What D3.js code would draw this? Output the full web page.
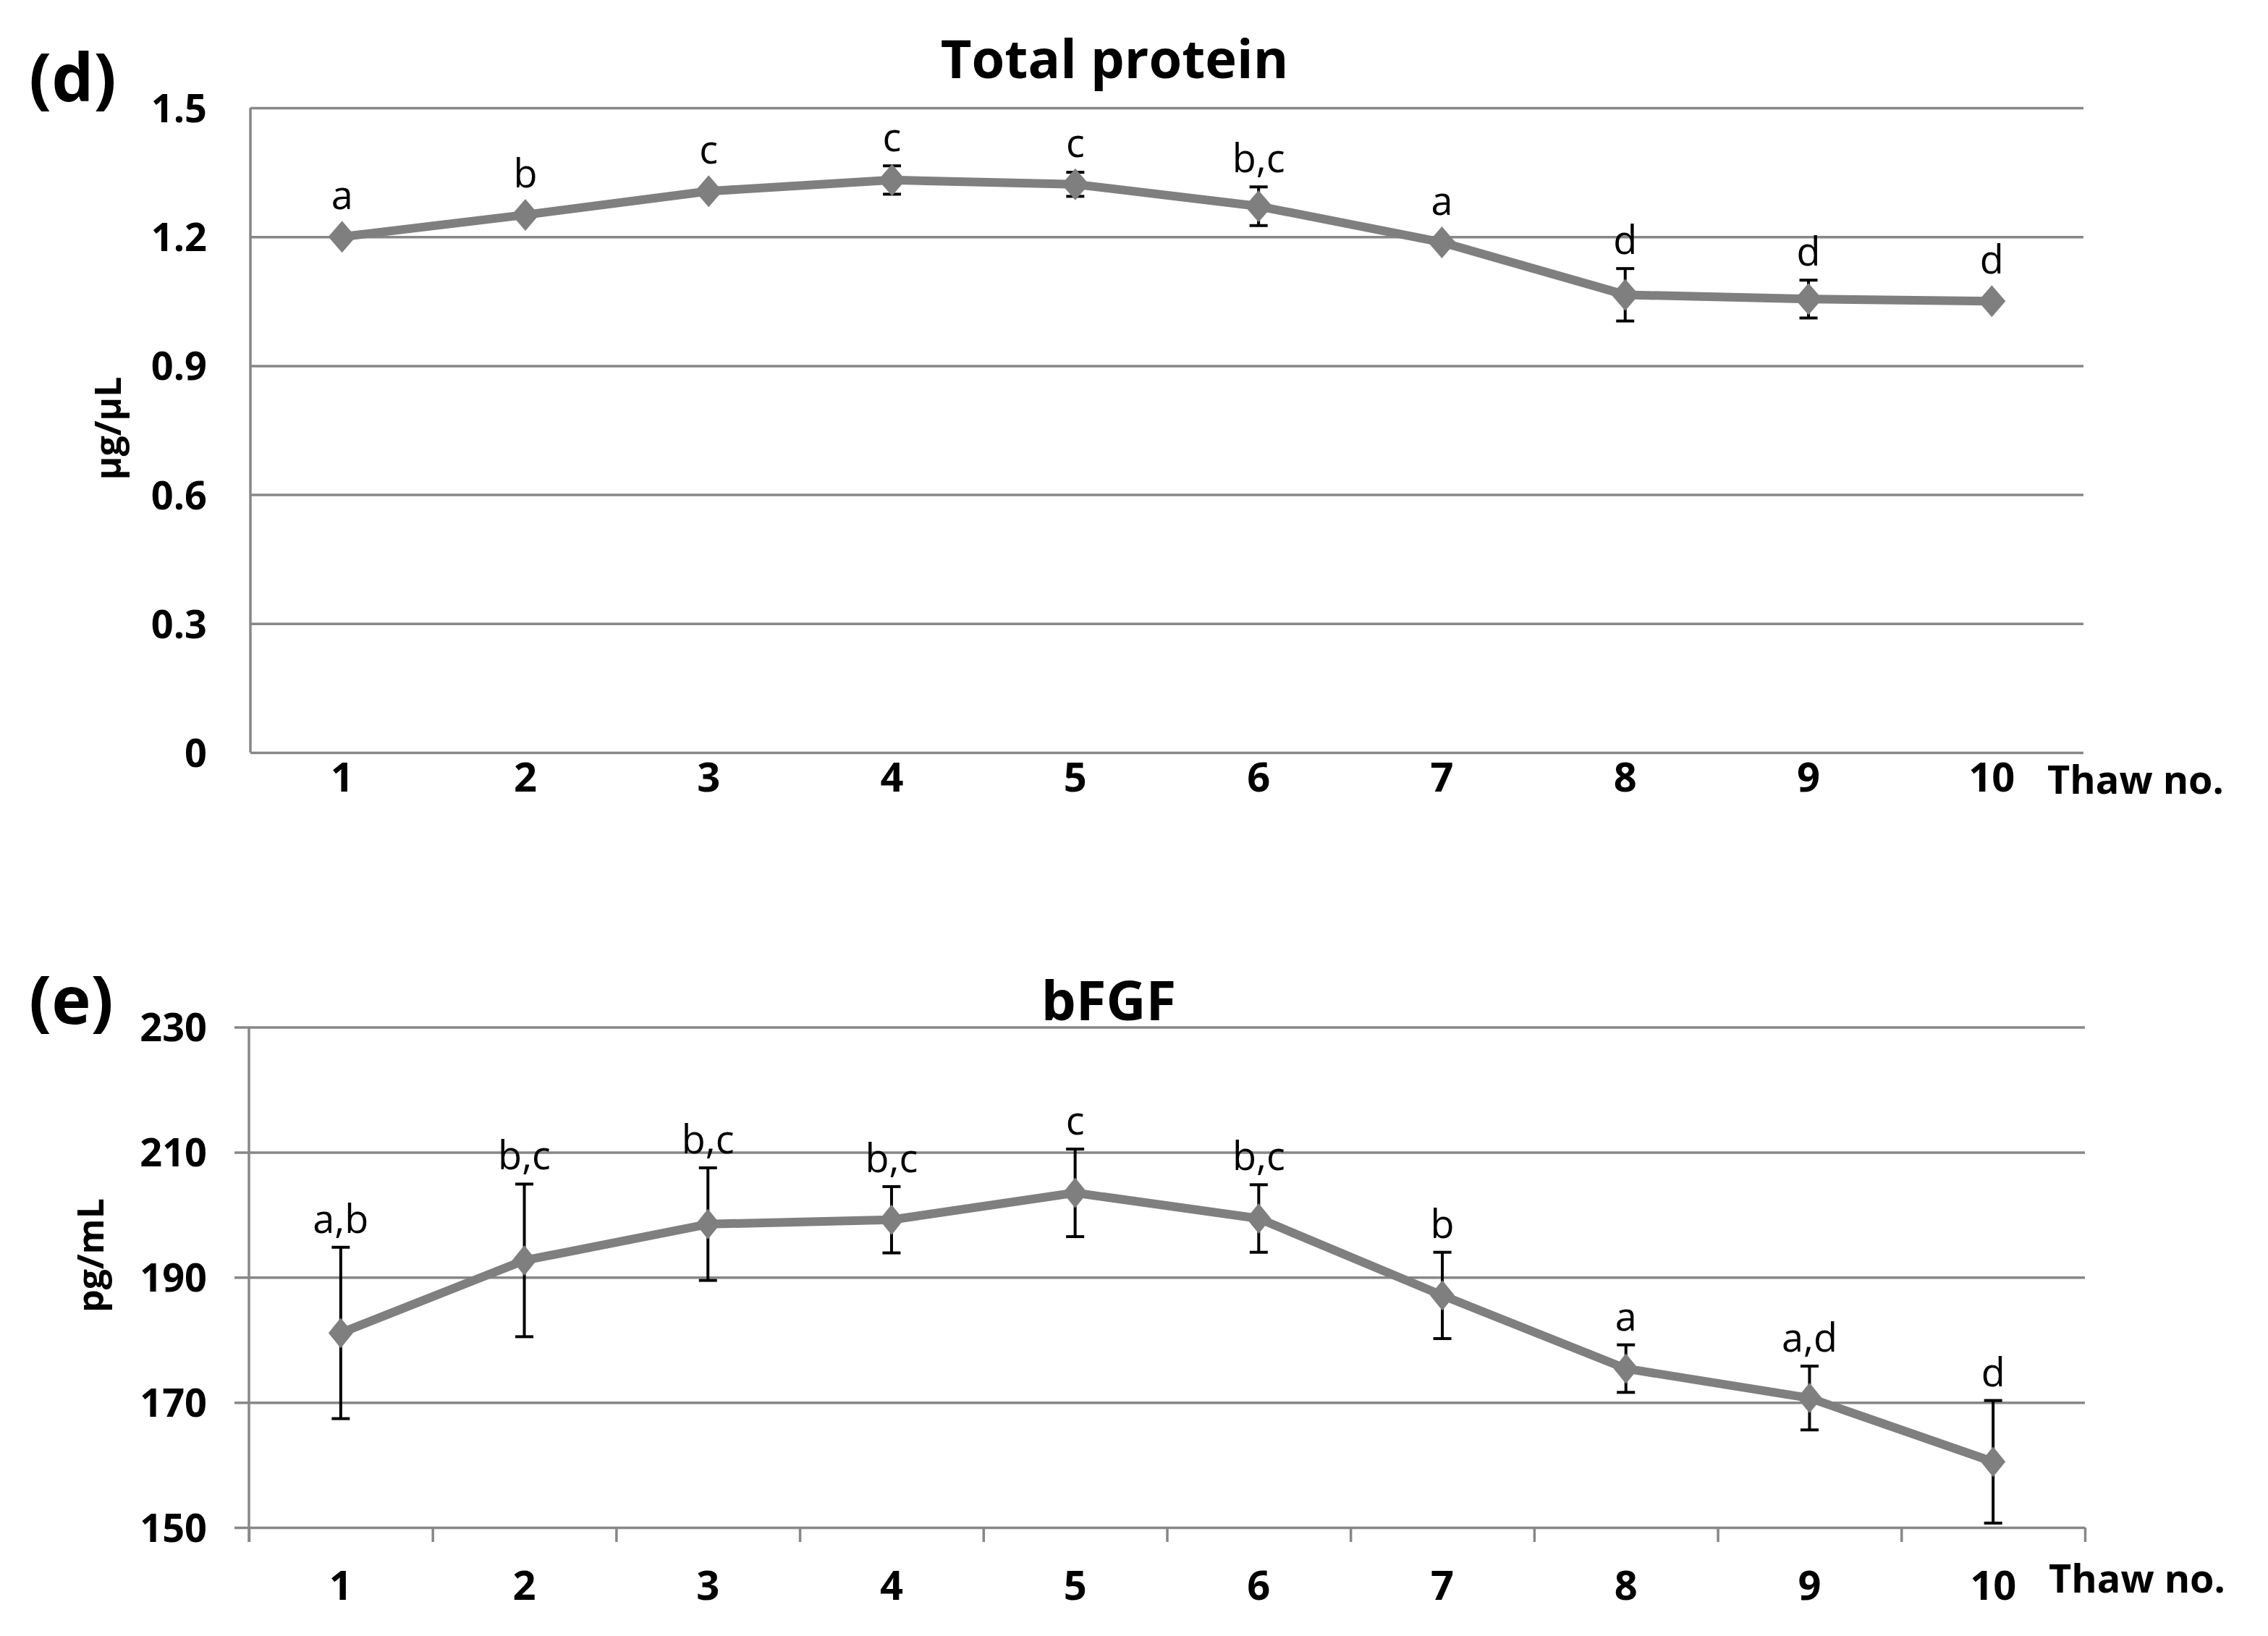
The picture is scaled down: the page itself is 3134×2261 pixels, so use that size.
<!DOCTYPE html>
<html>
<head>
<meta charset="utf-8">
<script src="https://cdn.jsdelivr.net/npm/d3@7"></script>
<style>
  html, body { margin: 0; padding: 0; background: #fff; }
  svg text { font-family: "Open Sans", "Noto Sans", sans-serif; }
</style>
</head>
<body>
<svg id="chart" width="3134" height="2261"></svg>
<script>
/// data ///
const thawNo = ["1", "2", "3", "4", "5", "6", "7", "8", "9", "10"];

// (d) total protein, ug/uL
const proteinMean = [1.200, 1.251, 1.306, 1.332, 1.322, 1.271, 1.187, 1.065, 1.055, 1.050];
const proteinErr = [0.005, 0.006, 0.007, 0.033, 0.028, 0.045, 0.006, 0.061, 0.044, 0.008];
const proteinLetters = ["a", "b", "c", "c", "c", "b,c", "a", "d", "d", "d"];
const proteinTicks = [0, 0.3, 0.6, 0.9, 1.2, 1.5];

// (e) bFGF, pg/mL
const bfgfMean = [181.1, 192.7, 198.5, 199.2, 203.5, 199.4, 187.1, 175.4, 170.7, 160.5];
const bfgfErr = [13.7, 12.2, 9.0, 5.3, 7.0, 5.4, 6.9, 3.8, 5.1, 9.8];
const bfgfLetters = ["a,b", "b,c", "b,c", "b,c", "c", "b,c", "b", "a", "a,d", "d"];
const bfgfTicks = [150, 170, 190, 210, 230];

/// constants ///
const gridColor = "#878787";
const lineColor = "#7f7f7f";

const svg = d3.select("#chart");
svg.append("rect").attr("width", 3134).attr("height", 2261).attr("fill", "#fff");

function drawPanel(p) {
  const g = svg.append("g");

  // scales
  const xScale = d3.scaleBand().domain(thawNo).range([p.left, p.right]).padding(0);
  const xc = d => xScale(d) + xScale.bandwidth() / 2;
  const yScale = d3.scaleLinear().domain(d3.extent(p.ticks)).range([p.bottom, p.top]);

  // gridlines + y tick labels
  const yAxis = g.append("g")
    .attr("transform", `translate(${p.left},0)`)
    .call(d3.axisLeft(yScale).tickValues(p.ticks).tickSize(-(p.right - p.left)).tickPadding(p.left - 286).tickFormat(d => d))
  yAxis.select(".domain").remove();
  yAxis.selectAll(".tick line")
    .attr("x1", -p.outTick)
    .attr("stroke", gridColor).attr("stroke-width", 3.5);
  yAxis.selectAll(".tick text")
    .attr("font-family", "Open Sans").attr("font-weight", "bold")
    .attr("font-size", 54).attr("fill", "#000").attr("dy", "0.36em");

  // left axis line
  g.append("line")
    .attr("x1", p.left).attr("x2", p.left)
    .attr("y1", p.top).attr("y2", p.bottom + p.outTick)
    .attr("stroke", gridColor).attr("stroke-width", 3.5);

  // x tick marks at category edges (only on bFGF panel)
  if (p.outTick > 0) {
    const edgeScale = d3.scaleLinear().domain([0, thawNo.length]).range([p.left, p.right]);
    const xEdges = g.append("g")
      .attr("transform", `translate(0,${p.bottom})`)
      .call(d3.axisBottom(edgeScale).ticks(thawNo.length).tickFormat("").tickSize(p.outTick));
    xEdges.select(".domain").remove();
    xEdges.selectAll(".tick line").attr("stroke", gridColor).attr("stroke-width", 3.5);
  }

  // x labels
  const xAxis = g.append("g")
    .attr("transform", `translate(0,${p.bottom})`)
    .call(d3.axisBottom(xScale).tickSize(0).tickPadding(p.labelPad));
  xAxis.select(".domain").remove();
  xAxis.selectAll(".tick text")
    .attr("font-family", "Open Sans").attr("font-weight", "bold")
    .attr("font-size", 56).attr("fill", "#000");

  g.append("text")
    .attr("x", p.right - 50).attr("y", p.thawY)
    .attr("dominant-baseline", "central")
    .attr("font-weight", "bold").attr("font-size", 54)
    .text("Thaw no.");

  // titles
  g.append("text")
    .attr("x", p.titleX).attr("y", p.titleY)
    .attr("text-anchor", "middle")
    .attr("font-weight", "bold").attr("font-size", p.titleSize)
    .text(p.title);

  g.append("text")
    .attr("x", 40).attr("y", p.panelY)
    .attr("font-weight", "bold").attr("font-size", 92)
    .text(p.panel);

  g.append("text")
    .attr("transform", `translate(${p.yLabelX},${p.yLabelY}) rotate(-90)`)
    .attr("text-anchor", "middle").attr("dominant-baseline", "central")
    .attr("font-weight", "bold").attr("font-size", 50)
    .text(p.yLabel);

  const rows = thawNo.map((t, i) => ({ t, m: p.mean[i], e: p.err[i], lab: p.letters[i] }));

  // line
  const line = d3.line().x(d => xc(d.t)).y(d => yScale(d.m));
  g.append("path")
    .datum(rows)
    .attr("d", line)
    .attr("fill", "none")
    .attr("stroke", lineColor).attr("stroke-width", 12).attr("stroke-linejoin", "round");

  // error bars
  const bars = g.selectAll(".err").data(rows).join("g").classed("err", true)
    .attr("stroke", "#000").attr("stroke-width", 4);
  bars.append("line")
    .attr("x1", d => xc(d.t)).attr("x2", d => xc(d.t))
    .attr("y1", d => yScale(d.m + d.e)).attr("y2", d => yScale(d.m - d.e));
  bars.append("line")
    .attr("x1", d => xc(d.t) - 12.5).attr("x2", d => xc(d.t) + 12.5)
    .attr("y1", d => yScale(d.m + d.e)).attr("y2", d => yScale(d.m + d.e));
  bars.append("line")
    .attr("x1", d => xc(d.t) - 12.5).attr("x2", d => xc(d.t) + 12.5)
    .attr("y1", d => yScale(d.m - d.e)).attr("y2", d => yScale(d.m - d.e));

  // diamond markers
  const rx = p.markerW, ry = p.markerH;
  g.selectAll(".mk").data(rows).join("path").classed("mk", true)
    .attr("d", `M0,${-ry} L${rx},0 L0,${ry} L${-rx},0 Z`)
    .attr("transform", d => `translate(${xc(d.t)},${yScale(d.m)})`)
    .attr("fill", lineColor);

  // significance letters above the points
  g.selectAll(".lab").data(rows).join("text").classed("lab", true)
    .attr("x", d => xc(d.t))
    .attr("y", d => Math.min(yScale(d.m) - 38, yScale(d.m + d.e) - 20))
    .attr("text-anchor", "middle")
    .attr("font-size", 54)
    .text(d => d.lab);
}

drawPanel({
  left: 346, right: 2879, top: 149, bottom: 1040, outTick: 0,
  ticks: proteinTicks, mean: proteinMean, err: proteinErr, letters: proteinLetters,
  labelPad: 14, thawY: 1076,
  title: "Total protein", titleX: 1540, titleY: 108, titleSize: 74,
  panel: "(d)", panelY: 140,
  yLabel: "\u00b5g/\u00b5L", yLabelX: 148, yLabelY: 592,
  markerW: 19, markerH: 22
});

drawPanel({
  left: 344, right: 2881, top: 1419.5, bottom: 2111, outTick: 20,
  ticks: bfgfTicks, mean: bfgfMean, err: bfgfErr, letters: bfgfLetters,
  labelPad: 60, thawY: 2180,
  title: "bFGF", titleX: 1532, titleY: 1410, titleSize: 76,
  panel: "(e)", panelY: 1415,
  yLabel: "pg/mL", yLabelX: 124, yLabelY: 1735,
  markerW: 17, markerH: 21
});
</script>
</body>
</html>
